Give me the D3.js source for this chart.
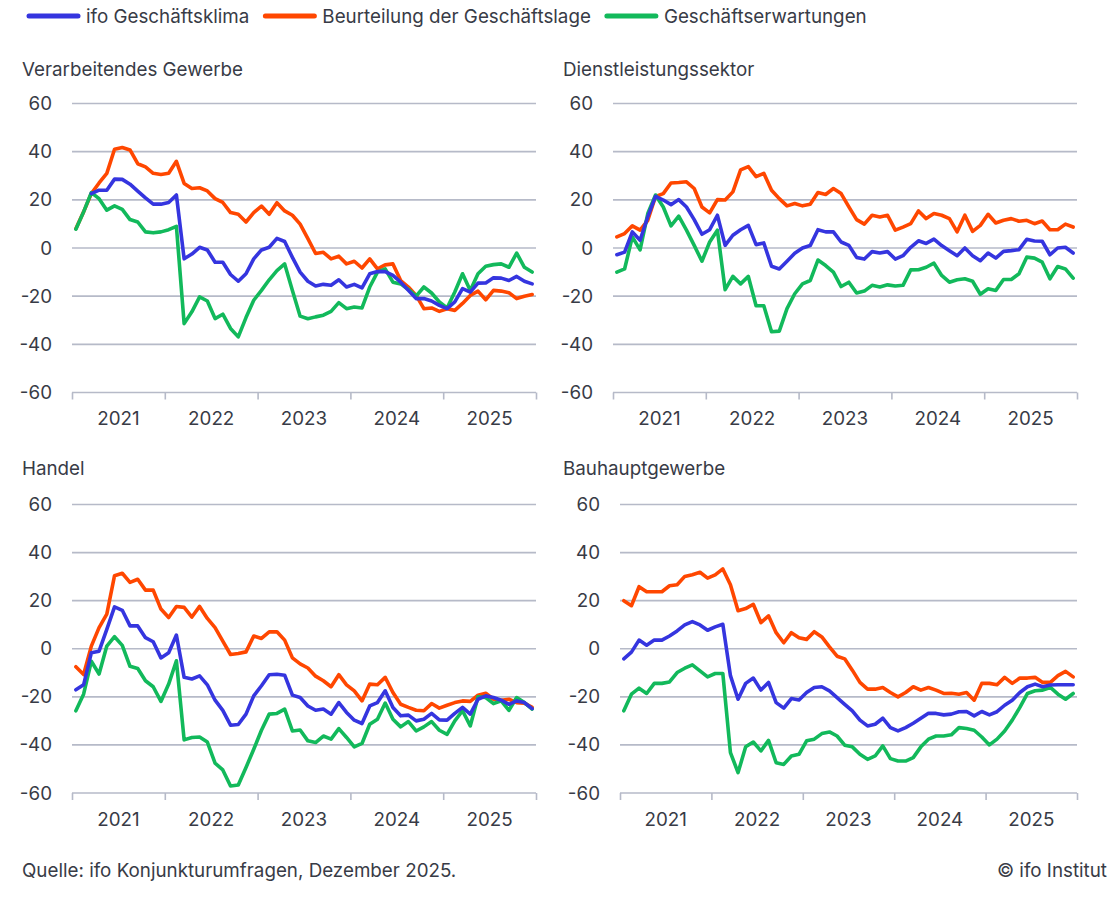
<!DOCTYPE html>
<html lang="de">
  <head>
    <meta charset="utf-8">
    <title>ifo Geschäftsklima nach Wirtschaftsbereichen</title>
    <script src="https://cdn.jsdelivr.net/npm/d3@7/dist/d3.min.js"></script>
    <style>
      body { margin: 0; background: #fff; }
      text { font-family: Inter, 'Noto Sans', sans-serif; fill: #383b46; }
    </style>
  </head>
  <body>
    <script>
      // monthly values, Jan 2021 - Dec 2025
      var years = [2021, 2022, 2023, 2024, 2025]
      var yTicks = [60, 40, 20, 0, -20, -40, -60]
      var seriesNames = ['ifo Geschäftsklima', 'Beurteilung der Geschäftslage', 'Geschäftserwartungen']
      var colors = ['#3535df', '#ff4700', '#12b95b']

      // Verarbeitendes Gewerbe (first two Klima months are not visible in the picture)
      var vgKlima = [null, null, 22.6, 24, 24, 28.6, 28.5, 26.5, 23.6, 20.8, 18.2, 18.2, 18.9, 22, -4.5, -2.5, 0.3, -0.8, -5.9, -5.9,
        -11, -13.8, -10.7, -4.5, -0.8, 0.3, 4, 2.7, -3.9, -10, -13.8, -15.8, -15.1, -15.5, -13.2, -16.2, -15.1, -16.6, -10.7, -9.8,
        -9.8, -11.4, -14.2, -17.6, -21, -21, -22, -23.8, -25.2, -22.4, -16.9, -18.3, -14.6, -14.5, -12.4, -12.5, -13.5, -11.8, -13.8, -14.9]
      var vgLage = [8, 15, 22.6, 27, 31, 41, 41.7, 40.7, 35, 33.7, 31, 30.5, 31, 36, 26.8, 24.7, 25, 23.7, 20.5, 18.9,
        14.7, 14, 10.8, 14.7, 17.4, 14, 18.8, 15.4, 13.6, 9.9, 3.9, -2.3, -1.8, -4.5, -3.4, -6.6, -5.5, -8.3, -4.5, -8.7,
        -7, -6.6, -13.5, -16.2, -19.7, -25.2, -24.9, -26.3, -25.2, -25.9, -23, -19.7, -17.9, -21.5, -17.6, -17.9, -18.6, -21, -20, -19.3]
      var vgErw = [7.8, 15, 23, 20.5, 15.7, 17.5, 16, 11.8, 10.8, 6.7, 6.3, 6.7, 7.6, 9, -31.4, -26.5, -20.3, -22, -29.3, -27.5,
        -33.4, -36.9, -28.9, -21.7, -17.6, -13.2, -9.4, -6.6, -17.6, -28.3, -29.4, -28.6, -27.9, -26.3, -22.7, -25.2, -24.5, -24.9, -16.2, -10,
        -8.7, -14.2, -14.9, -17.2, -20, -16.2, -18.7, -22.4, -24.9, -18.3, -10.7, -17.6, -10.7, -7.6, -6.9, -6.6, -8, -2.1, -8, -10]

      // Dienstleistungssektor
      var dlKlima = [-2.8, -1.7, 6.7, 3.2, 13, 21.4, 19.9, 18, 20.1, 17, 11.8, 5.7, 7.6, 13.6, 1.1, 5.3, 7.6, 9.4, 1.4, 2.1,
        -7.6, -8.7, -5.5, -2.2, 0, 1, 7.6, 6.7, 6.7, 2.5, 1.1, -3.9, -4.6, -1.5, -2.1, -1.5, -4.6, -3.2, 0.3, 3,
        1.9, 3.7, 1, -1.1, -3.2, 0, -3.2, -5.3, -2.1, -4.2, -1.4, -1.1, -0.7, 3.6, 2.9, 2.8, -2.8, 0, 0.3, -2.1]
      var dlLage = [4.6, 6, 9.2, 7.4, 11.5, 21.4, 22.6, 27, 27.2, 27.5, 24.7, 17, 14.6, 20.1, 19.9, 23.3, 32.4, 33.8, 29.6, 31,
        24, 20.5, 17.5, 18.5, 17.5, 18.2, 23, 22.2, 24.7, 22.6, 17.1, 11.8, 9.9, 13.6, 12.9, 13.6, 7.4, 8.7, 10.1, 15.4,
        12.2, 14.3, 13.6, 12.2, 6.7, 13.6, 6.9, 9.4, 14, 10.4, 11.5, 12.2, 11.1, 11.5, 10.1, 11.2, 7.6, 7.6, 9.9, 8.7]
      var dlErw = [-10, -8.7, 4.6, -0.8, 14.3, 22, 17, 9.2, 13.2, 7.4, 1.1, -5.5, 2.5, 7.4, -17.3, -11.8, -14.9, -11.8, -24, -24,
        -34.8, -34.5, -25.2, -19, -14.9, -13.5, -5, -7.3, -10, -16, -14.2, -18.7, -17.9, -15.5, -16.2, -15.3, -15.8, -15.5, -9.1, -9,
        -8, -6.3, -11.4, -14.2, -13.2, -12.8, -13.8, -19.2, -16.9, -17.6, -13.1, -13.1, -10.7, -3.8, -4.2, -5.9, -12.8, -7.7, -8.7, -12.5]

      // Handel
      var haKlima = [-17.1, -15, -1.7, -1, 8.1, 17.4, 16, 9.5, 9.5, 4.6, 2.9, -3.8, -1.7, 5.7, -11.9, -12.6, -11.3, -15, -21.4, -25.6,
        -31.8, -31.5, -27.2, -19.6, -15.4, -10.8, -10.6, -11, -19.3, -20.3, -23.8, -25.6, -25.1, -27.2, -22.4, -26.5, -29.7, -31.1, -23.8, -22.4,
        -17.5, -24.4, -27.9, -27.6, -30, -29.3, -26.9, -29.6, -29.7, -26.9, -24.4, -27.2, -21, -19.6, -20.3, -21.4, -23.1, -21.7, -22.4, -24.9]
      var haLage = [-7.5, -10.7, 1.1, 8.8, 14.4, 30.4, 31.4, 27.6, 28.9, 24.4, 24.4, 16.5, 13, 17.6, 17.2, 13.2, 17.6, 12.6, 8.8, 3.2,
        -2.4, -2, -1.3, 5.3, 4.3, 7, 7.1, 3.6, -3.8, -6.3, -8, -11.4, -13.3, -15.8, -10.8, -15, -17.5, -21.7, -14.7, -15,
        -11.9, -18.2, -23.1, -24.4, -25.6, -25.8, -22.8, -24.7, -23.5, -22.4, -21.7, -21.9, -19.3, -18.5, -21, -21.4, -21, -22.4, -22.6, -24.4]
      var haErw = [-25.8, -18.9, -5.2, -10.5, 1.1, 5, 1.4, -7.3, -8.2, -13.3, -15.8, -21.9, -14.7, -5, -37.9, -36.9, -36.7, -38.8, -47.6, -50.4,
        -57.1, -56.7, -49.4, -41.8, -33.9, -27.2, -26.9, -25.1, -34.2, -33.8, -38.3, -39, -36.3, -37.6, -33.2, -36.9, -40.8, -39.4, -31.4, -29.3,
        -22.6, -29.3, -32.5, -30.3, -34.2, -32.5, -30.3, -33.9, -35.6, -30, -25.8, -32.1, -20, -20.3, -22.8, -21.7, -25.6, -20.3, -22.4, -25.1]

      // Bauhauptgewerbe
      var bauKlima = [-4.2, -1.4, 3.6, 1.5, 3.6, 3.6, 5.3, 7.4, 9.9, 11.3, 9.9, 7.7, 9.1, 10.2, -11.2, -21, -14.4, -12.2, -17.2, -14,
        -22.4, -24.7, -20.7, -21.3, -18.2, -16.1, -15.8, -17.5, -20.3, -23.1, -25.8, -29.7, -32.1, -31.4, -28.9, -32.8, -34.2, -32.8, -31, -28.9,
        -26.8, -26.9, -27.5, -27.2, -26.2, -26.1, -27.9, -26.1, -27.5, -26.2, -23.5, -21.4, -18.2, -15.8, -14.7, -15.8, -15.1, -15, -15, -15]
      var bauLage = [20, 17.9, 25.8, 23.7, 23.7, 23.7, 26.2, 26.6, 30.1, 30.8, 31.8, 29.4, 30.7, 33.2, 26.6, 15.8, 16.7, 18.5, 10.9, 13.7,
        6.7, 2.5, 6.7, 4.6, 3.9, 7.1, 4.9, 0.8, -3.1, -4.2, -8.9, -14, -16.8, -16.8, -16.1, -18.2, -20, -18.2, -15.8, -17.2,
        -16.1, -17.2, -18.6, -18.5, -18.9, -18.2, -21.4, -14.4, -14.4, -15, -11.9, -14.4, -12.2, -12.2, -11.9, -14, -14, -11.2, -9.4, -11.7]
      var bauErw = [-25.8, -18.9, -16.4, -18.6, -14.4, -14.4, -13.8, -9.9, -8.1, -6.7, -9.2, -11.7, -10.3, -10.3, -43.2, -51.5, -40.8, -38.8, -42.5, -38.1,
        -47.4, -48.1, -44.6, -43.9, -38.3, -37.6, -35.3, -34.6, -36.3, -40.1, -40.8, -43.9, -46, -44.6, -40.4, -45.7, -46.7, -46.7, -45.3, -40.8,
        -37.6, -36.3, -36.3, -35.8, -32.8, -33.2, -33.9, -36.7, -40, -37.6, -34.2, -29.7, -24.4, -18.6, -17.5, -17.2, -16.1, -18.9, -21, -18.6]

      var panels = [
        {title: 'Verarbeitendes Gewerbe', series: [vgKlima, vgLage, vgErw], x0: 72, x1: 536, top: 103.5, bottom: 392.5, titleY: 76},
        {title: 'Dienstleistungssektor', series: [dlKlima, dlLage, dlErw], x0: 613, x1: 1077, top: 103.5, bottom: 392.5, titleY: 76},
        {title: 'Handel', series: [haKlima, haLage, haErw], x0: 72, x1: 536, top: 504.5, bottom: 793, titleY: 475},
        {title: 'Bauhauptgewerbe', series: [bauKlima, bauLage, bauErw], x0: 620, x1: 1077, top: 504.5, bottom: 793, titleY: 475}
      ]
      var titleX = [22, 563, 22, 563]
      var drawOrder = [1, 2, 0] // Lage below, Klima on top
      var fs = 18.8

      var svg = d3.select('body').append('svg').attr('width', 1118).attr('height', 900)

      // legend
      var lx = 27
      seriesNames.forEach(function(name, i) {
        svg.append('line')
          .attr('x1', lx + 2).attr('x2', lx + 51).attr('y1', 16).attr('y2', 16)
          .attr('stroke', colors[i]).attr('stroke-width', 5).attr('stroke-linecap', 'round')
        var t = svg.append('text')
          .attr('x', lx + 59).attr('y', 16).attr('dy', '0.35em')
          .attr('font-size', fs).text(name)
        lx += 59 + t.node().getComputedTextLength() + 14
      })

      panels.forEach(function(p, k) {
        var g = svg.append('g')
        var x = d3.scaleLinear().domain([0, 60]).range([p.x0, p.x1])
        var y = d3.scaleLinear().domain([-60, 60]).range([p.bottom, p.top])

        g.append('text').attr('x', titleX[k]).attr('y', p.titleY)
          .attr('font-size', fs).text(p.title)

        // grid + y labels
        g.selectAll('line.grid').data(yTicks).enter().append('line')
          .attr('class', 'grid')
          .attr('x1', p.x0).attr('x2', p.x1)
          .attr('y1', function(d) { return y(d) }).attr('y2', function(d) { return y(d) })
          .attr('stroke', '#b6bac8').attr('stroke-width', 1.6)
        g.selectAll('text.ylab').data(yTicks).enter().append('text')
          .attr('class', 'ylab')
          .attr('x', p.x0 - 20).attr('y', function(d) { return y(d) }).attr('dy', '0.35em')
          .attr('text-anchor', 'end').attr('font-size', fs)
          .text(function(d) { return d })

        // year ticks on the -60 line
        var xAxis = d3.axisBottom(x).tickValues([0, 12, 24, 36, 48, 60]).tickSize(7).tickFormat('')
        var ax = g.append('g').attr('transform', 'translate(0,' + y(-60) + ')').call(xAxis)
        ax.select('.domain').remove()
        ax.selectAll('line').attr('stroke', '#b6bac8').attr('stroke-width', 1.6)

        g.selectAll('text.year').data(years).enter().append('text')
          .attr('class', 'year')
          .attr('x', function(d, i) { return x(i * 12 + 6) })
          .attr('y', y(-60) + 26).attr('dy', '0.35em')
          .attr('text-anchor', 'middle').attr('font-size', fs)
          .text(function(d) { return d })

        var line = d3.line()
          .defined(function(d) { return d !== null })
          .x(function(d, i) { return x(i + 0.5) })
          .y(function(d) { return y(d) })

        drawOrder.forEach(function(i) {
          g.append('path').datum(p.series[i])
            .attr('d', line)
            .attr('fill', 'none')
            .attr('stroke', colors[i])
            .attr('stroke-width', 3.6)
            .attr('stroke-linejoin', 'round')
            .attr('stroke-linecap', 'round')
        })
      })

      svg.append('text').attr('x', 22).attr('y', 870).attr('dy', '0.35em')
        .attr('font-size', fs).text('Quelle: ifo Konjunkturumfragen, Dezember 2025.')
      svg.append('text').attr('x', 1107).attr('y', 870).attr('dy', '0.35em')
        .attr('text-anchor', 'end').attr('font-size', fs).text('© ifo Institut')
    </script>
  </body>
</html>
